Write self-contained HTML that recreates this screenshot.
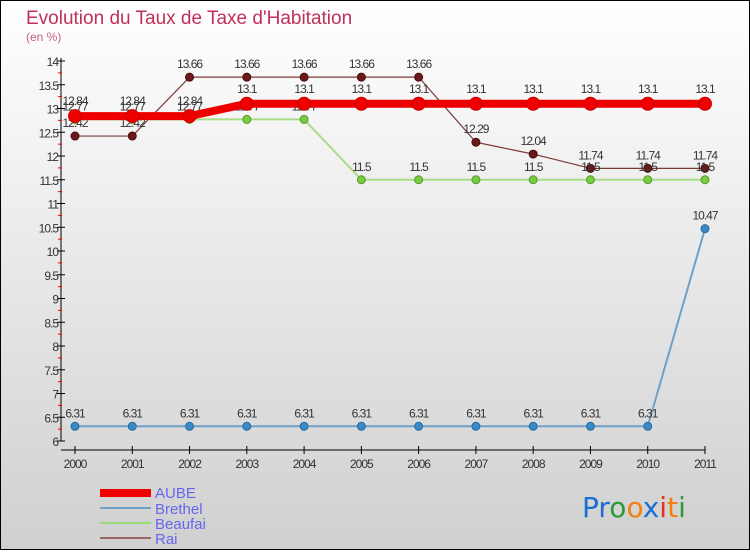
<!DOCTYPE html>
<html><head><meta charset="utf-8"><style>
html,body{margin:0;padding:0;}
body{width:750px;height:550px;overflow:hidden;font-family:"Liberation Sans",sans-serif;}
</style></head><body>
<svg id="chart" width="750" height="550" xmlns="http://www.w3.org/2000/svg">
<defs><linearGradient id="bg" x1="0" y1="0" x2="0" y2="1"><stop offset="0" stop-color="#ffffff"/><stop offset="1" stop-color="#d0d0d0"/></linearGradient></defs>
<rect x="0.5" y="0.5" width="749" height="549" fill="url(#bg)" stroke="#000"/>
<text x="26" y="24" font-size="19" fill="#c0305a">Evolution du Taux de Taxe d'Habitation</text>
<text x="26" y="41" font-size="12" fill="#c0608a">(en %)</text>
<g id="plot"></g>
<g font-size="15" fill="#5555ee">
<rect x="100" y="489" width="51" height="8" fill="#ee0000"/>
<text x="155" y="498" fill="#6666ee">AUBE</text>
<rect x="100" y="507" width="51" height="2" fill="#6fa0c8"/>
<text x="155" y="514" fill="#6666ee">Brethel</text>
<rect x="100" y="522" width="51" height="2" fill="#99dd77"/>
<text x="155" y="529" fill="#6666ee">Beaufai</text>
<rect x="100" y="537" width="51" height="2" fill="#996666"/>
<text x="155" y="544" fill="#6666ee">Rai</text>
</g>
<g font-size="28" font-family="DejaVu Sans, sans-serif">
<text x="582" y="517"><tspan fill="#1a6fd0">Pr</tspan><tspan fill="#2a9a3a">o</tspan><tspan fill="#f08010">o</tspan><tspan fill="#1a6fd0">x</tspan><tspan fill="#e83020">i</tspan><tspan fill="#f08010">t</tspan><tspan fill="#2a9a3a">i</tspan></text>
</g>
</svg>
<script>
const years=["2000","2001","2002","2003","2004","2005","2006","2007","2008","2009","2010","2011"];
const aube=[12.84,12.84,12.84,13.1,13.1,13.1,13.1,13.1,13.1,13.1,13.1,13.1];
const brethel=[6.31,6.31,6.31,6.31,6.31,6.31,6.31,6.31,6.31,6.31,6.31,10.47];
const beaufai=[12.77,12.77,12.77,12.77,12.77,11.5,11.5,11.5,11.5,11.5,11.5,11.5];
const rai=[12.42,12.42,13.66,13.66,13.66,13.66,13.66,12.29,12.04,11.74,11.74,11.74];
const yTicks=["6","6.5","7","7.5","8","8.5","9","9.5","10","10.5","11","11.5","12","12.5","13","13.5","14"];
const NS="http://www.w3.org/2000/svg";
const g=document.getElementById('plot');
function X(i){return 75+i*(630/11);}
function Y(v){return 441-(v-6)*47.5;}
function el(t,a,p){const e=document.createElementNS(NS,t);for(const k in a)e.setAttribute(k,a[k]);(p||g).appendChild(e);return e;}
let ax=el('line',{x1:61,y1:58,x2:61,y2:441,stroke:'#000'});


let xa=el('line',{x1:61,y1:450,x2:705,y2:450,stroke:'#000'});


yTicks.forEach(t=>{const v=parseFloat(t),y=Y(v);
 el('line',{x1:57,y1:y,x2:65,y2:y,stroke:'#000'});
 if(v<14)el('line',{x1:58,y1:Y(v+0.25),x2:62,y2:Y(v+0.25),stroke:'#e00'});
 const tx=el('text',{x:58,y:y+5,'text-anchor':'end','font-size':12,fill:'#333','letter-spacing':'-1'});
 tx.textContent=t;
 
 
});
years.forEach((yr,i)=>{const x=X(i);
 el('line',{x1:x,y1:446,x2:x,y2:454,stroke:'#000'});
 const tx=el('text',{x:x,y:468,'text-anchor':'middle','font-size':12,fill:'#333','letter-spacing':'-1'});
 tx.textContent=yr;
 
 
});
function series(name,data,color,w,r,dot,dotStroke,labelDy){
 const sg=el('g',{});
 
 
 el('polyline',{points:data.map((v,i)=>X(i)+','+Y(v)).join(' '),fill:'none',stroke:color,'stroke-width':w,'stroke-linejoin':'round'},sg);
 data.forEach((v,i)=>{
  const c=el('circle',{cx:X(i),cy:Y(v),r:r,fill:dot,stroke:dotStroke},sg);
  
  
  const t=el('text',{x:X(i),y:Y(v)+labelDy,'text-anchor':'middle','font-size':12,fill:'#333','letter-spacing':'-1'},sg);
  t.textContent=String(v);
  
  
 });
}
series('rai',rai,'#7a3a3a',1.2,4,'#6a1a1a','#4a0a0a',-9);
series('beaufai',beaufai,'#aadd88',2,4,'#77cc44','#559922',-9);
series('brethel',brethel,'#6fa0c8',2,4,'#3a8ac8','#2a6a9a',-9);
series('aube',aube,'#ee0000',8,6.5,'#ee0000','#cc0000',-11);
</script>
</body></html>
